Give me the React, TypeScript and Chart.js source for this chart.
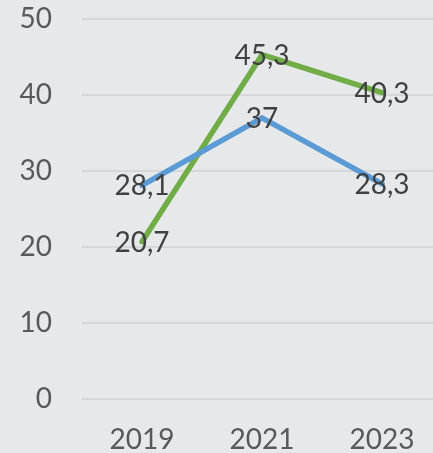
import React, { useEffect, useRef } from "react";
import { Chart, registerables } from "chart.js";

Chart.register(...registerables);

const categories = ["2019", "2021", "2023"];
const blueValues = [28.1, 37, 28.3];
const greenValues = [20.7, 45.3, 40.3];
const yTicks = [0, 10, 20, 30, 40, 50];

const FONT = "Lato, 'Open Sans', sans-serif";

const labelPlugin = {
  id: "pointLabels",
  afterDatasetsDraw(chart: any) {
    const ctx = chart.ctx;
    ctx.save();
    ctx.font = `28px ${FONT}`;
    ctx.fillStyle = "#404040";
    ctx.textAlign = "center";
    ctx.textBaseline = "middle";
    chart.data.datasets.forEach((ds: any, i: number) => {
      const meta = chart.getDatasetMeta(i);
      meta.data.forEach((pt: any, j: number) => {
        const v = ds.data[j];
        const txt = String(v).replace(".", ",");
        ctx.fillText(txt, pt.x, pt.y + 1);
      });
    });
    ctx.restore();
  },
};

const bgPlugin = {
  id: "bg",
  beforeDraw(chart: any) {
    const ctx = chart.ctx;
    ctx.save();
    ctx.fillStyle = "#e7e8ea";
    ctx.fillRect(0, 0, chart.width, chart.height);
    ctx.restore();
  },
};

export default function App() {
  const ref = useRef<HTMLCanvasElement>(null);
  useEffect(() => {
    if (!ref.current) return;
    const chart = new Chart(ref.current, {
      type: "line",
      data: {
        labels: categories,
        datasets: [
          {
            data: blueValues,
            borderColor: "#5b9bd5",
            borderWidth: 5.5,
            pointRadius: 0,
            borderCapStyle: "round",
            borderJoinStyle: "round",
            tension: 0,
          },
          {
            data: greenValues,
            borderColor: "#70ad47",
            borderWidth: 5.5,
            pointRadius: 0,
            borderCapStyle: "round",
            borderJoinStyle: "round",
            tension: 0,
          },
        ],
      },
      options: {
        animation: false,
        responsive: false,
        layout: { padding: { top: 19, right: 8, left: 0, bottom: 0 } },
        plugins: { legend: { display: false }, tooltip: { enabled: false } },
        scales: {
          x: {
            offset: true,
            grid: { display: false },
            border: { display: false },
            ticks: {
              color: "#595959",
              font: { family: FONT, size: 28 },
              padding: 16,
              maxRotation: 0,
            },
            afterFit(scale: any) {
              scale.height = 54;
              scale.paddingLeft = 0;
              scale.paddingRight = 0;
            },
          },
          y: {
            min: 0,
            max: 50,
            afterBuildTicks(scale: any) {
              scale.ticks = yTicks.map((v) => ({ value: v }));
            },
            grid: { color: "#d6d7d9", lineWidth: 2, drawTicks: false },
            border: { display: false },
            ticks: {
              color: "#595959",
              font: { family: FONT, size: 28 },
              padding: 30,
            },
            afterFit(scale: any) {
              scale.width = 82;
              scale.paddingTop = 0;
              scale.paddingBottom = 0;
            },
          },
        },
      },
      plugins: [bgPlugin, labelPlugin],
    });
    return () => chart.destroy();
  }, []);
  return (
    <div
      style={{
        position: "fixed",
        left: 0,
        top: 0,
        width: 433,
        height: 453,
        overflow: "hidden",
        background: "#e7e8ea",
      }}
    >
      <canvas ref={ref} width={450} height={453} style={{ display: "block" }} />
    </div>
  );
}
